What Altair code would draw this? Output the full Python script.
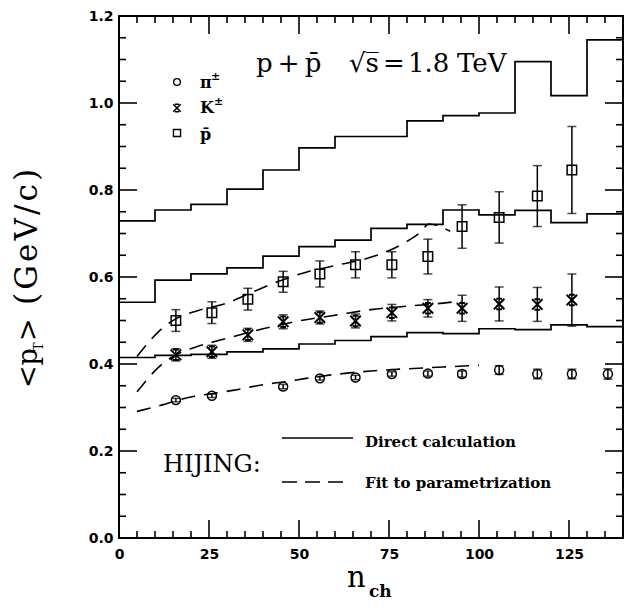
import altair as alt
import pandas as pd

W, H = 504, 522

# ---------------- data ----------------
bin_edges = [0, 10, 20, 30, 40, 50, 60, 70, 80, 90, 100, 110, 120, 130, 140]
pion_direct = [0.415, 0.420, 0.422, 0.428, 0.435, 0.446, 0.454, 0.463, 0.472, 0.470, 0.481, 0.479, 0.490, 0.486]
kaon_direct = [0.542, 0.593, 0.607, 0.621, 0.648, 0.670, 0.685, 0.712, 0.721, 0.754, 0.743, 0.753, 0.725, 0.745]
pbar_direct = [0.729, 0.754, 0.767, 0.802, 0.846, 0.897, 0.923, 0.923, 0.959, 0.971, 0.977, 1.095, 1.017, 1.145]

pion_fit_x = [5, 12, 16, 21, 26, 32, 37, 42, 47, 52, 60, 70, 80, 90, 100]
pion_fit_y = [0.291, 0.306, 0.316, 0.326, 0.332, 0.340, 0.348, 0.355, 0.360, 0.367, 0.376, 0.384, 0.389, 0.393, 0.397]
kaon_fit_x = [5, 12, 16, 21, 30, 40, 50, 60, 70, 80, 90, 95]
kaon_fit_y = [0.336, 0.400, 0.422, 0.438, 0.459, 0.481, 0.499, 0.512, 0.525, 0.533, 0.540, 0.545]
pbar_fit_x = [5, 12, 16, 22, 30, 37, 44, 52, 61, 71, 79, 84, 86, 92]
pbar_fit_y = [0.417, 0.482, 0.505, 0.523, 0.540, 0.565, 0.589, 0.611, 0.628, 0.648, 0.677, 0.705, 0.722, 0.705]

pion_n = [15.8, 25.8, 45.6, 55.8, 65.7, 75.8, 85.8, 95.3, 105.6, 116.2, 125.8, 135.8]
pion_pt = [0.317, 0.327, 0.348, 0.367, 0.369, 0.377, 0.378, 0.377, 0.386, 0.377, 0.377, 0.377]
pion_err = [0.004, 0.004, 0.005, 0.004, 0.005, 0.005, 0.006, 0.007, 0.010, 0.011, 0.011, 0.012]

kaon_n = [15.8, 25.8, 35.8, 45.6, 55.8, 65.7, 75.8, 85.8, 95.3, 105.6, 116.2, 125.8]
kaon_pt = [0.421, 0.428, 0.467, 0.497, 0.507, 0.499, 0.518, 0.528, 0.528, 0.538, 0.537, 0.547]
kaon_err = [0.014, 0.015, 0.015, 0.016, 0.015, 0.016, 0.019, 0.020, 0.030, 0.039, 0.039, 0.060]

pbar_n = [15.8, 25.8, 35.8, 45.6, 55.8, 65.7, 75.8, 85.8, 95.3, 105.6, 116.2, 125.8]
pbar_pt = [0.500, 0.518, 0.549, 0.589, 0.607, 0.628, 0.628, 0.647, 0.716, 0.737, 0.786, 0.846]
pbar_err = [0.025, 0.025, 0.025, 0.024, 0.030, 0.030, 0.030, 0.040, 0.050, 0.059, 0.070, 0.100]

x_major = [0, 25, 50, 75, 100, 125]
x_minor = [v for v in range(5, 140, 5) if v % 25 != 0]
y_major = [0.0, 0.2, 0.4, 0.6, 0.8, 1.0, 1.2]
y_minor = [round(0.05 * k, 2) for k in range(1, 24) if k % 4 != 0]

# ---------------- scales / axes ----------------
XMAX, YMAX = 140, 1.2
xs = alt.Scale(domain=[0, XMAX], nice=False, zero=False)
ys = alt.Scale(domain=[0, YMAX], nice=False, zero=False)
xaxis = alt.Axis(values=x_major, format="d", labelPadding=9, title=None)
yaxis = alt.Axis(values=y_major, format=".1f", labelPadding=6, title=None)


def X(f):
    return alt.X(f, type="quantitative", scale=xs, axis=xaxis)


def Y(f):
    return alt.Y(f, type="quantitative", scale=ys, axis=yaxis)


# step curves (HIJING direct calculation)
rows = []
for name, vals in [("pi", pion_direct), ("K", kaon_direct), ("pbar", pbar_direct)]:
    vv = vals + [vals[-1]]
    for e, v in zip(bin_edges, vv):
        rows.append({"s": name, "n": e, "pt": v})
steps = alt.Chart(pd.DataFrame(rows)).mark_line(
    interpolate="step-after", color="black", strokeWidth=1.7
).encode(x=X("n"), y=Y("pt"), detail="s:N")

# dashed fits
rows = []
for name, xx, yy in [("pi", pion_fit_x, pion_fit_y), ("K", kaon_fit_x, kaon_fit_y),
                     ("pbar", pbar_fit_x, pbar_fit_y)]:
    for a, b in zip(xx, yy):
        rows.append({"s": name, "n": a, "pt": b})
fits = alt.Chart(pd.DataFrame(rows)).mark_line(
    interpolate="monotone", color="black", strokeWidth=1.6, strokeDash=[14, 9]
).encode(x=X("n"), y=Y("pt"), detail="s:N")

# data points
rows = []
for name, xx, yy, ee in [("pi", pion_n, pion_pt, pion_err), ("K", kaon_n, kaon_pt, kaon_err),
                         ("pbar", pbar_n, pbar_pt, pbar_err)]:
    for a, b, c in zip(xx, yy, ee):
        rows.append({"s": name, "n": a, "pt": b, "lo": b - c, "hi": b + c})
pts = pd.DataFrame(rows)

err = alt.Chart(pts).mark_rule(color="black", strokeWidth=1.5).encode(
    x=X("n"), y=Y("lo"), y2="hi")
cap_lo = alt.Chart(pts).mark_tick(color="black", thickness=1.5, size=9, orient="horizontal").encode(
    x=X("n"), y=Y("lo"))
cap_hi = alt.Chart(pts).mark_tick(color="black", thickness=1.5, size=9, orient="horizontal").encode(
    x=X("n"), y=Y("hi"))

kaon_shape = "M-1,-1L1,1M-1,1L1,-1M-0.55,-1L0.55,-1M-0.55,1L0.55,1"

m_pi = alt.Chart(pts[pts.s == "pi"]).mark_point(
    shape="circle", filled=False, color="black", size=80, strokeWidth=1.5, opacity=1
).encode(x=X("n"), y=Y("pt"))
m_k = alt.Chart(pts[pts.s == "K"]).mark_point(
    shape=kaon_shape, filled=False, color="black", size=110, strokeWidth=2, opacity=1
).encode(x=X("n"), y=Y("pt"))
m_p = alt.Chart(pts[pts.s == "pbar"]).mark_point(
    shape="square", filled=False, color="black", size=90, strokeWidth=1.5, opacity=1
).encode(x=X("n"), y=Y("pt"))

# inward frame ticks (tick length px -> data units), kept just inside the frame
MAJ, MIN = 18, 7
px_x = XMAX / W
px_y = YMAX / H
eps_y, eps_x = 0.001, 0.1
xt = []
for vals, L in [(x_major, MAJ), (x_minor, MIN)]:
    ly = L * px_y
    for v in vals:
        if v <= 0:
            continue
        xt.append({"n": float(v), "lo": eps_y, "hi": ly})
        xt.append({"n": float(v), "lo": YMAX - ly, "hi": YMAX - eps_y})
yt = []
for vals, L in [(y_major, MAJ), (y_minor, MIN)]:
    lx = L * px_x
    for v in vals:
        if v <= 0 or v >= YMAX:
            continue
        yt.append({"pt": float(v), "xl": eps_x, "xr": lx})
        yt.append({"pt": float(v), "xl": XMAX - lx, "xr": XMAX - eps_x})
xtick_layer = alt.Chart(pd.DataFrame(xt)).mark_rule(color="black", strokeWidth=1.6).encode(
    x=X("n"), y=Y("lo"), y2="hi")
ytick_layer = alt.Chart(pd.DataFrame(yt)).mark_rule(color="black", strokeWidth=1.6).encode(
    y=Y("pt"), x=X("xl"), x2="xr")


# annotations
def txt(s, x, y, size, font="DejaVu Serif", weight="normal", align="left",
        baseline="alphabetic", angle=None):
    kw = dict(align=align, baseline=baseline, font=font, fontSize=size,
              fontWeight=weight, color="black")
    if angle is not None:
        kw["angle"] = angle
    return alt.Chart(pd.DataFrame({"t": [s]})).mark_text(**kw).encode(
        x=alt.value(x), y=alt.value(y), text="t:N")


title_y = 56
hs = "\u200a"
ann = [
    txt("p\u2009+\u2009p\u0304", 137, title_y, 26),
    txt("\u221as\u0305", 230, title_y, 26),
    txt("=", 264, title_y, 26),
    txt("1.8", 289, title_y, 26),
    txt("TeV", 338, title_y, 26),
    # legend labels
    txt("\u03c0", 81, 72, 16, weight="bold"),
    txt("\u00b1", 92, 64, 11, weight="bold"),
    txt("K", 81, 97, 16, weight="bold"),
    txt("\u00b1", 95, 89, 11, weight="bold"),
    txt("p\u0304", 81, 124, 16, weight="bold"),
    # HIJING legend
    txt("HIJING:", 44, 456, 24),
    txt("Direct calculation", 246, 431, 15, weight="bold"),
    txt("Fit to parametrization", 246, 472, 15, weight="bold"),
    # x title
    txt("n", 228, 571, 29),
    txt("ch", 250, 581, 17, weight="bold"),
    # y title (rotated, reading upwards)
    txt("<p", -82, 372, 27, angle=270),
    txt("T", -76, 335, 13, angle=270),
    txt(">", -82, 325, 27, angle=270),
    txt(hs.join("(GeV/c)"), -82, 289, 31, angle=270),
]

one = pd.DataFrame({"k": [0]})
leg_pi = alt.Chart(one).mark_point(shape="circle", filled=False, color="black", size=45,
                                   strokeWidth=1.4, opacity=1).encode(x=alt.value(58), y=alt.value(66))
leg_k = alt.Chart(one).mark_point(shape=kaon_shape, filled=False, color="black", size=55,
                                  strokeWidth=1.6, opacity=1).encode(x=alt.value(58), y=alt.value(92))
leg_p = alt.Chart(one).mark_point(shape="square", filled=False, color="black", size=50,
                                  strokeWidth=1.4, opacity=1).encode(x=alt.value(58), y=alt.value(117))
leg_solid = alt.Chart(one).mark_rule(color="black", strokeWidth=1.5).encode(
    x=alt.value(163), x2=alt.value(234), y=alt.value(422))
leg_dash = alt.Chart(one).mark_rule(color="black", strokeWidth=1.5, strokeDash=[15, 8]).encode(
    x=alt.value(163), x2=alt.value(224), y=alt.value(466))

chart = alt.layer(
    steps, fits, err, cap_lo, cap_hi, m_pi, m_k, m_p, xtick_layer, ytick_layer,
    leg_pi, leg_k, leg_p, leg_solid, leg_dash, *ann
).properties(
    width=W, height=H,
    autosize=alt.AutoSizeParams(type="none"),
    padding={"left": 119, "top": 16, "right": 3, "bottom": 72},
    background="white",
).configure_view(
    stroke="black", strokeWidth=2
).configure_axis(
    labelFont="DejaVu Sans", labelFontWeight="bold", labelFontSize=14, labelColor="black",
    ticks=False, domain=False, grid=False, labelFlush=False, labelOverlap=False, labelBound=False
)

chart.save("out.html", embed_options={"renderer": "svg", "actions": False})
